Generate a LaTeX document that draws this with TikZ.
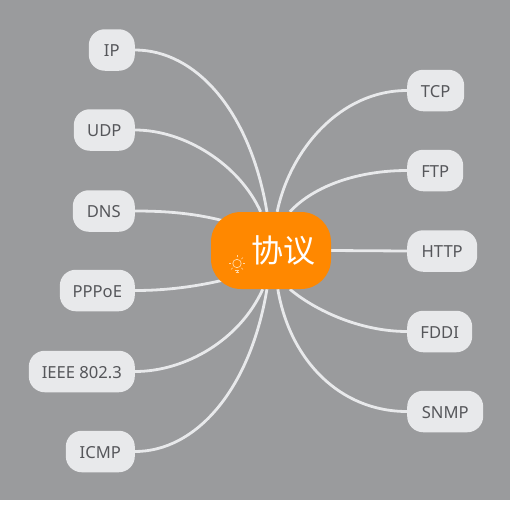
\documentclass[tikz,border=0pt]{standalone}
\usepackage{fontspec}
\setmainfont{Noto Sans}
\newfontfamily\cjk{Noto Sans CJK SC}
\usetikzlibrary{backgrounds,positioning}

\definecolor{mapgrey}{HTML}{9A9B9D}
\definecolor{leaffill}{HTML}{E8E9EB}
\definecolor{leaftext}{HTML}{55565A}
\definecolor{rootfill}{HTML}{FF8800}
\definecolor{bulbline}{HTML}{FFD9A8}

\tikzset{
    leaf/.style={draw=none,fill=leaffill,text=leaftext,rounded corners=16pt,
        minimum height=41.5pt,inner sep=0pt,text height=13.7pt,text depth=0pt,
        font=\fontsize{16.6}{18}\selectfont},
    leftleaf/.style={leaf,anchor=east},
    rightleaf/.style={leaf,anchor=west},
    root/.style={fill=rootfill,text=white,rounded corners=30pt,minimum width=120pt,
        minimum height=77pt,inner sep=0pt,font=\cjk\fontsize{32}{34}\selectfont},
    branch/.style={draw=leaffill,line width=2.8pt}
}

\begin{document}
\begin{tikzpicture}[x=1pt,y=-1pt]
	\useasboundingbox (0,0) rectangle (514,504);

	\node[root] (Proto) at (271,250.5) {\hspace*{25pt}协议};

	\node[leftleaf,minimum width=46pt] (IP) at (135,50) {IP};
	\node[leftleaf,minimum width=61pt] (UDP) at (135,130) {UDP};
	\node[leftleaf,minimum width=62pt] (DNS) at (135,211) {DNS};
	\node[leftleaf,minimum width=75pt] (PPPoE) at (135,290.5) {PPPoE};
	\node[leftleaf,minimum width=106pt] (IEEE) at (135,371.5) {IEEE 802.3};
	\node[leftleaf,minimum width=69pt] (ICMP) at (135,451.5) {ICMP};

	\node[rightleaf,minimum width=57pt] (TCP) at (407,90.5) {TCP};
	\node[rightleaf,minimum width=56pt] (FTP) at (407,170.5) {FTP};
	\node[rightleaf,minimum width=70pt] (HTTP) at (407,251) {HTTP};
	\node[rightleaf,minimum width=65pt] (FDDI) at (407,331.5) {FDDI};
	\node[rightleaf,minimum width=76pt] (SNMP) at (407,411.5) {SNMP};

	\coordinate (DnsEnd) at ([shift={(-43,-28.5)}]Proto.center);
	\coordinate (PppEnd) at ([shift={(-43,28.5)}]Proto.center);

	% branches run under the root
	\begin{scope}[on background layer]
		\fill[mapgrey] (0,0) rectangle (510,500);
		\draw[branch] (IP.east) .. controls +(60,0) and +(-17,-102) .. (Proto.96);
		\draw[branch] (UDP.east) .. controls +(50,0) and +(-21,-47) .. (Proto.105);
		\draw[branch] (DNS.east) .. controls +(30,0) and +(-33,-9) .. (DnsEnd);
		\draw[branch] (PPPoE.east) .. controls +(30,0) and +(-33,8) .. (PppEnd);
		\draw[branch] (IEEE.east) .. controls +(50,0) and +(-23,51) .. (Proto.258);
		\draw[branch] (ICMP.east) .. controls +(60,0) and +(-17,102) .. (Proto.264);
		\draw[branch] (TCP.west) .. controls +(-67,0) and +(13,-62) .. (Proto.81);
		\draw[branch] (FTP.west) .. controls +(-47,0) and +(25,-27) .. (Proto.64);
		\draw[branch] (HTTP.west) -- (Proto.east);
		\draw[branch] (FDDI.west) .. controls +(-47,0) and +(25,21) .. (Proto.296);
		\draw[branch] (SNMP.west) .. controls +(-67,0) and +(12,71) .. (Proto.280);
	\end{scope}

	% bulb on the root
	\draw[bulbline,line width=.7pt] (237,263.5) circle (4.2pt);
	\draw[bulbline,line width=.7pt] (235,270) -- (239,270) (235.5,272) -- (238.5,272);
	\foreach \a in {0,45,...,180,270,315}
		\draw[bulbline,line width=.6pt] (237,263.5) ++(-\a:6.2pt) -- ++(-\a:2.2pt);
\end{tikzpicture}
\end{document}
